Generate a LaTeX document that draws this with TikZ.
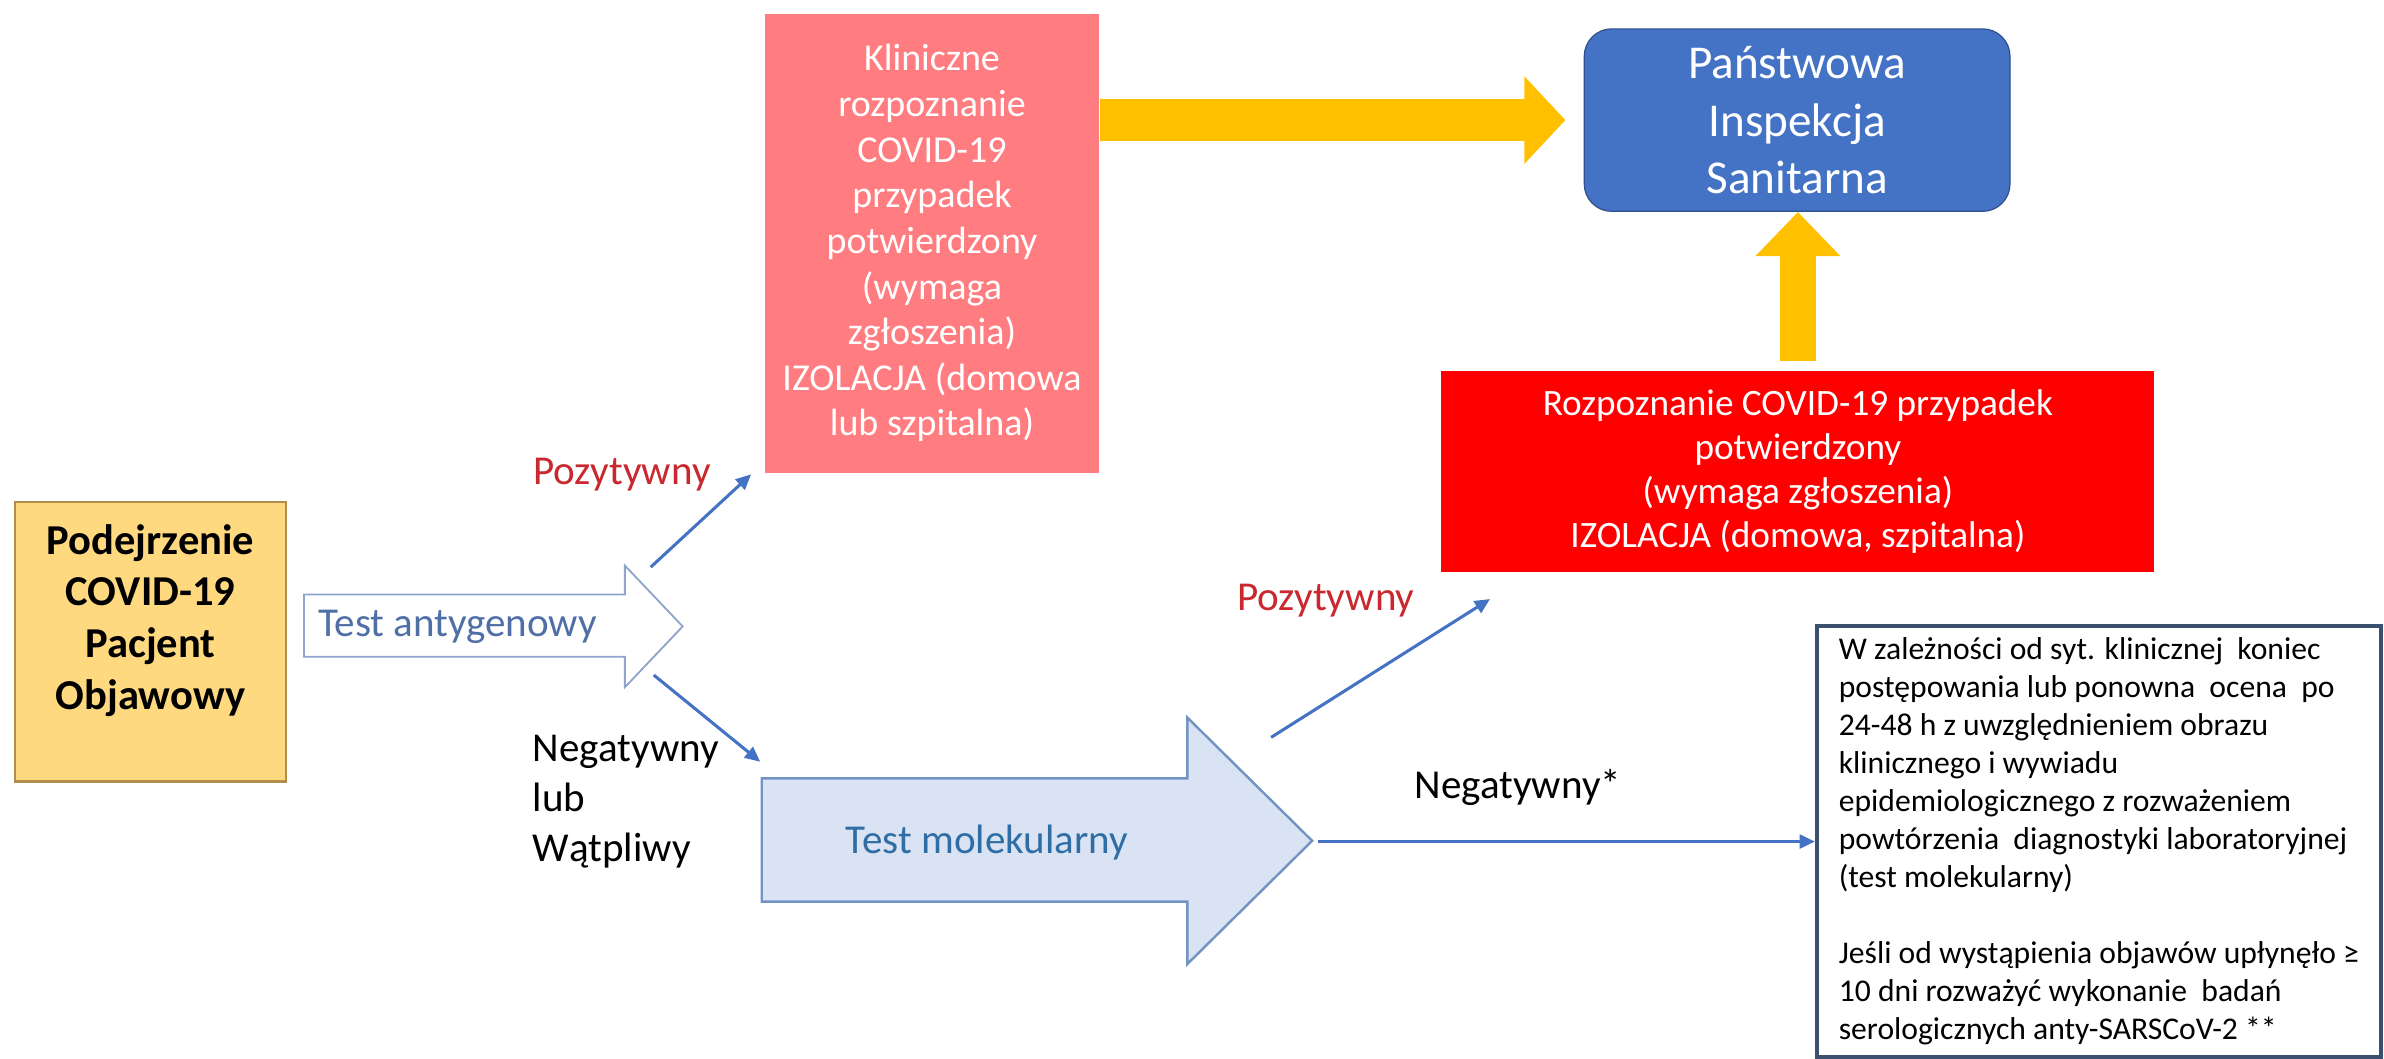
\documentclass[tikz,border=0pt]{standalone}
\usepackage{fontspec}
\setmainfont{Carlito}
\usetikzlibrary{arrows.meta}
\definecolor{suspfill}{HTML}{FFD980}
\definecolor{suspline}{HTML}{B08F4C}
\definecolor{clinfill}{HTML}{FF7C80}
\definecolor{pisfill}{HTML}{4472C4}
\definecolor{pisline}{HTML}{2F528F}
\definecolor{arrowgold}{HTML}{FFC000}
\definecolor{molfill}{HTML}{DAE3F3}
\definecolor{molline}{HTML}{7393C3}
\definecolor{antline}{HTML}{8EA5CB}
\definecolor{anttext}{HTML}{4F6FA6}
\definecolor{moltext}{HTML}{2F6EA5}
\definecolor{posred}{HTML}{C8282E}
\definecolor{linkblue}{HTML}{4472C4}
\definecolor{noteline}{HTML}{3B4F6E}
\begin{document}
\begin{tikzpicture}[yscale=-1,x=0.5pt,y=0.5pt,
  box/.style={inner sep=0pt,align=center,text=white},
  lbl/.style={inner sep=0pt,font=\fontsize{13.5}{16.5}\selectfont},
  link/.style={draw=linkblue,line width=1pt,-{Triangle[length=5pt,width=4.5pt]}}]
\path[use as bounding box,fill=white] (0,0) rectangle (1568,696);
% boxes
\node[draw=suspline,fill=suspfill,line width=0.7pt,minimum width=89pt,minimum height=92pt] (Nsusp) at (99,422) {};
\node[inner sep=0pt,align=center,font=\fontsize{14}{17}\selectfont\bfseries] (Nsusptxt) at (99,408) {Podejrzenie\\COVID-19\\Pacjent\\Objawowy};
\node[box,fill=clinfill,minimum width=110pt,minimum height=151pt,font=\fontsize{12.5}{15}\selectfont] (Nclin) at (613,160) {Kliniczne\\rozpoznanie\\COVID-19\\przypadek\\potwierdzony\\(wymaga\\zgłoszenia)\\IZOLACJA (domowa\\lub szpitalna)};
\node[box,draw=pisline,fill=pisfill,rounded corners=9pt,minimum width=140pt,minimum height=60pt,font=\fontsize{15.5}{19}\selectfont] (Npis) at (1182,79) {Państwowa\\Inspekcja\\Sanitarna};
\node[box,fill=red,minimum width=234.5pt,minimum height=66pt,font=\fontsize{12.25}{14.5}\selectfont] (Nconf) at (1182.5,310) {Rozpoznanie COVID-19 przypadek\\potwierdzony\\(wymaga zgłoszenia)\\IZOLACJA (domowa, szpitalna)};
\node[draw=noteline,line width=1.3pt,inner sep=0pt,align=left,minimum width=185.5pt,minimum height=141.5pt,font=\fontsize{10.4}{12.5}\selectfont] (Nnote) at (1380.5,553.5) {W zależności od syt. klinicznej~ koniec\\postępowania lub ponowna~ ocena~ po\\24-48 h z uwzględnieniem obrazu\\klinicznego i wywiadu\\epidemiologicznego z rozważeniem\\powtórzenia~ diagnostyki laboratoryjnej\\(test molekularny)\\[12.5pt]Jeśli od wystąpienia objawów upłynęło ≥\\10 dni rozważyć wykonanie~ badań\\serologicznych anty-SARSCoV-2 **};
% block arrows
\draw[draw=antline,fill=white,line width=0.6pt] (200,391) -- (411,391) -- (411,372) -- (449,412) -- (411,452) -- (411,432) -- (200,432) -- cycle;
\node[lbl,anchor=west,text=anttext] (Nant) at (209,412) {Test antygenowy};
\draw[draw=molline,fill=molfill,line width=0.8pt] (501,512) -- (781,512) -- (781,472) -- (863,553) -- (781,634) -- (781,593) -- (501,593) -- cycle;
\node[lbl,anchor=west,text=moltext] (Nmol) at (556,554) {Test molekularny};
\draw[arrowgold,line width=14pt,-{Triangle[length=13.5pt,width=28pt]},shorten >=6pt] (Nclin.east |- Npis.west) -- (Npis.west);
\draw[arrowgold,line width=12pt,-{Triangle[length=14.5pt,width=27pt]},shorten <=3pt] (Nconf.north) -- (Nconf.north |- Npis.south);
% labels
\node[lbl,text=posred] (Npos1) at (409,312) {Pozytywny};
\node[lbl,text=posred] (Npos2) at (872,395) {Pozytywny};
\node[lbl,anchor=north west,align=left] (Nneg) at (350,483) {Negatywny\\lub\\Wątpliwy};
\node[lbl,anchor=west] (Nnegstar) at (930,518) {Negatywny*};
% connectors
\coordinate (Cant1) at (428,373);
\coordinate (Cclin) at (494,312);
\coordinate (Cant2) at (430,444);
\coordinate (Cmol1) at (500,501);
\coordinate (Cmol2) at (836,485);
\coordinate (Cconf) at (980,394);
\coordinate (Cmol3) at (867,553.5);
\draw[link] (Cant1) -- (Cclin);
\draw[link] (Cant2) -- (Cmol1);
\draw[link] (Cmol2) -- (Cconf);
\draw[link] (Cmol3) -- (Nnote.west);
\end{tikzpicture}
\end{document}
